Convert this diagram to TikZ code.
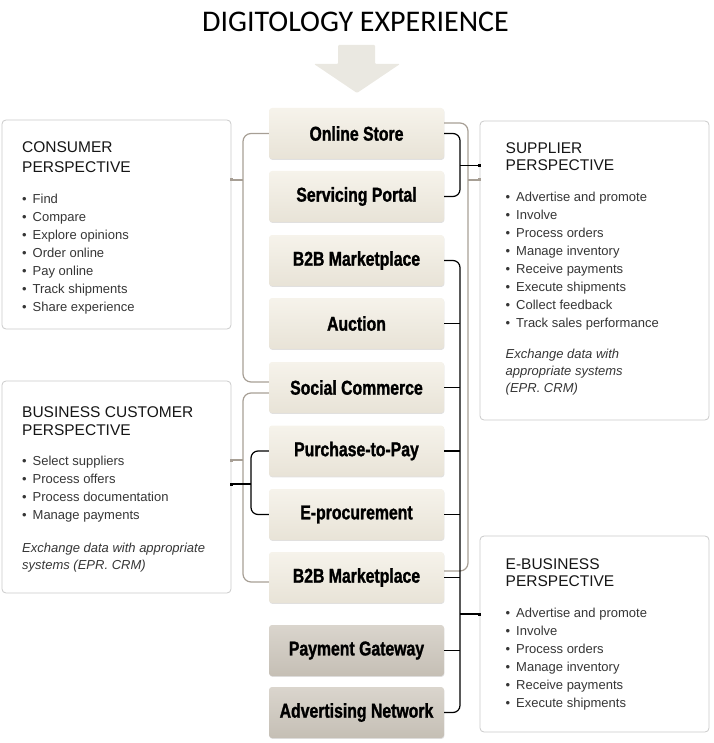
\documentclass[tikz,border=0pt]{standalone}
\usepackage{fontspec}
\setmainfont{Liberation Sans}
\newfontfamily\titlefont{Carlito}
\newfontfamily\boxfont[FakeStretch=0.79, BoldFeatures={FakeBold=1.3}]{Liberation Sans}
\usepackage{tikz}
\usetikzlibrary{positioning,shadows}
\usepackage{xcolor}

\definecolor{boxtop}{HTML}{F6F3EB}
\definecolor{boxbot}{HTML}{E8E3D7}
\definecolor{dboxtop}{HTML}{DAD5CD}
\definecolor{dboxbot}{HTML}{C5BFB5}
\definecolor{arrowc}{HTML}{EAE8E1}
\definecolor{linegray}{HTML}{A79F95}
\definecolor{pborder}{HTML}{CACACA}
\definecolor{headc}{HTML}{161616}
\definecolor{itemc}{HTML}{363636}

\newcommand{\bul}{\makebox[10.5pt][l]{\textbullet}}

\begin{document}
\begin{tikzpicture}[x=1pt, y=-1pt,
    mbox/.style={rectangle, rounded corners=3pt, minimum width=175pt, minimum height=51pt,
        top color=boxtop, bottom color=boxbot,
        drop shadow={shadow xshift=0.4pt, shadow yshift=-0.9pt, fill=black!40, opacity=0.3},
        font=\boxfont\bfseries\fontsize{20}{24}\selectfont, text=black},
    dbox/.style={mbox, top color=dboxtop, bottom color=dboxbot},
    pbox/.style={rectangle, rounded corners=4pt, draw=pborder, line width=0.8pt,
        minimum width=229pt, fill=white},
    headtxt/.style={anchor=base west, inner sep=0pt, font=\fontsize{15.5}{18}\selectfont, text=headc},
    itemtxt/.style={anchor=base west, inner sep=0pt, font=\fontsize{13}{18}\selectfont, text=itemc},
    notetxt/.style={itemtxt, font=\itshape\fontsize{13}{18}\selectfont},
    grayln/.style={draw=linegray, line width=1.2pt, rounded corners=8pt},
    blkln/.style={draw=black, line width=1.2pt, rounded corners=7pt},
    sqdot/.style={rectangle, inner sep=0pt, minimum size=3pt, fill=#1}]

    \useasboundingbox (0,0) rectangle (713,743);

    % Titel und Pfeil
    \node[anchor=base, inner sep=0pt, font=\titlefont\fontsize{30}{36}\selectfont] (title) at (355.5,32) {DIGITOLOGY EXPERIENCE};
    \fill[arrowc, rounded corners=1pt] (338,45) -- (375,45) -- (375,64) -- (400,64)
        -- (357,93) -- (314,64) -- (338,64) -- cycle;

    % Perspektiven
    \node[pbox, minimum height=209pt] (cons) at (116.5,224.5) {};
    \node[pbox, minimum height=212pt] (bus)  at (116.5,487) {};
    \node[pbox, minimum height=299pt] (supp) at (594.5,270.5) {};
    \node[pbox, minimum height=196pt] (ebus) at (594.5,634) {};

    % Kanaele
    \node[mbox] (os)  at (356.5,133.5) {Online Store};
    \node[mbox] (sp)  at (356.5,196.5) {Servicing Portal};
    \node[mbox] (bm)  at (356.5,260.5) {B2B Marketplace};
    \node[mbox] (au)  at (356.5,323.5) {Auction};
    \node[mbox] (sc)  at (356.5,387.5) {Social Commerce};
    \node[mbox] (pp)  at (356.5,451)   {Purchase-to-Pay};
    \node[mbox] (ep)  at (356.5,514.5) {E-procurement};
    \node[mbox] (bm2) at (356.5,577.5) {B2B Marketplace};
    \node[dbox] (pg)  at (356.5,650.5) {Payment Gateway};
    \node[dbox] (an)  at (356.5,712.5) {Advertising Network};

    % Texte der Perspektiven
    \foreach \t [count=\i from 0] in {CONSUMER,PERSPECTIVE}
        \node[headtxt] (chd\i) at (22,{152.7+20*\i}) {\t};
    \foreach \t [count=\i from 0] in {Find,Compare,Explore opinions,Order online,Pay online,Track shipments,Share experience}
        \node[itemtxt] (cit\i) at (22,{203.3+18*\i}) {\bul\t};

    \foreach \t [count=\i from 0] in {BUSINESS CUSTOMER,PERSPECTIVE}
        \node[headtxt] (bhd\i) at (22,{417.4+17.7*\i}) {\t};
    \foreach \t [count=\i from 0] in {Select suppliers,Process offers,Process documentation,Manage payments}
        \node[itemtxt] (bit\i) at (22,{465.3+18*\i}) {\bul\t};
    \foreach \t [count=\i from 0] in {Exchange data with appropriate,systems (EPR. CRM)}
        \node[notetxt] (bnt\i) at (22,{552+17.5*\i}) {\t};

    \foreach \t [count=\i from 0] in {SUPPLIER,PERSPECTIVE}
        \node[headtxt] (shd\i) at (505.5,{153.4+17.3*\i}) {\t};
    \foreach \t [count=\i from 0] in {Advertise and promote,Involve,Process orders,Manage inventory,Receive payments,Execute shipments,Collect feedback,Track sales performance}
        \node[itemtxt] (sit\i) at (505.5,{201+18*\i}) {\bul\t};
    \foreach \t [count=\i from 0] in {Exchange data with,appropriate systems,(EPR. CRM)}
        \node[notetxt] (snt\i) at (505.5,{358.3+17.3*\i}) {\t};

    \foreach \t [count=\i from 0] in {E-BUSINESS,PERSPECTIVE}
        \node[headtxt] (ehd\i) at (505.5,{569+17.3*\i}) {\t};
    \foreach \t [count=\i from 0] in {Advertise and promote,Involve,Process orders,Manage inventory,Receive payments,Execute shipments}
        \node[itemtxt] (eit\i) at (505.5,{617.6+18*\i}) {\bul\t};

    % Verbindungen rechts
    \coordinate (rg)  at (468,180);
    \coordinate (rb1) at (460,165.5);
    \coordinate (rb2) at (460,614);
    \draw[grayln] ([yshift=10.5pt]os.east) -| (rg) |- ([yshift=6.5pt]bm2.east);
    \draw[grayln] (rg) -- (supp.west |- rg);
    \draw[blkln] (os.east) -| (rb1) |- (sp.east);
    \draw[blkln] (rb1) -- (supp.west |- rb1);
    \draw[blkln] (bm.east) -| (rb2) |- (an.east);
    \foreach \n in {au,sc,pp,ep,bm2,pg}
        \draw[blkln] (\n.east) -- (\n.east -| rb2);
    \draw[blkln] (rb2) -- (ebus.west |- rb2);
    \node[sqdot=linegray] (d1) at (supp.west |- rg) {};
    \node[sqdot=black] (d2) at (supp.west |- rb1) {};
    \node[sqdot=black] (d3) at (ebus.west |- rb2) {};

    % Verbindungen links
    \coordinate (lg1) at (243,180);
    \coordinate (lg2) at (243,460);
    \coordinate (lb)  at (251,484);
    \draw[grayln] (os.west) -| (lg1) |- ([yshift=5.5pt]sc.west);
    \draw[grayln] (lg1) -- (cons.east |- lg1);
    \draw[grayln] ([yshift=-5.5pt]sc.west) -| (lg2) |- ([yshift=-4.5pt]bm2.west);
    \draw[grayln] (lg2) -- (bus.east |- lg2);
    \draw[blkln] (pp.west) -| (lb) |- (ep.west);
    \draw[blkln] (lb) -- (bus.east |- lb);
    \node[sqdot=linegray] (d4) at (cons.east |- lg1) {};
    \node[sqdot=linegray] (d5) at (bus.east |- lg2) {};
    \node[sqdot=black] (d6) at (bus.east |- lb) {};
\end{tikzpicture}
\end{document}
